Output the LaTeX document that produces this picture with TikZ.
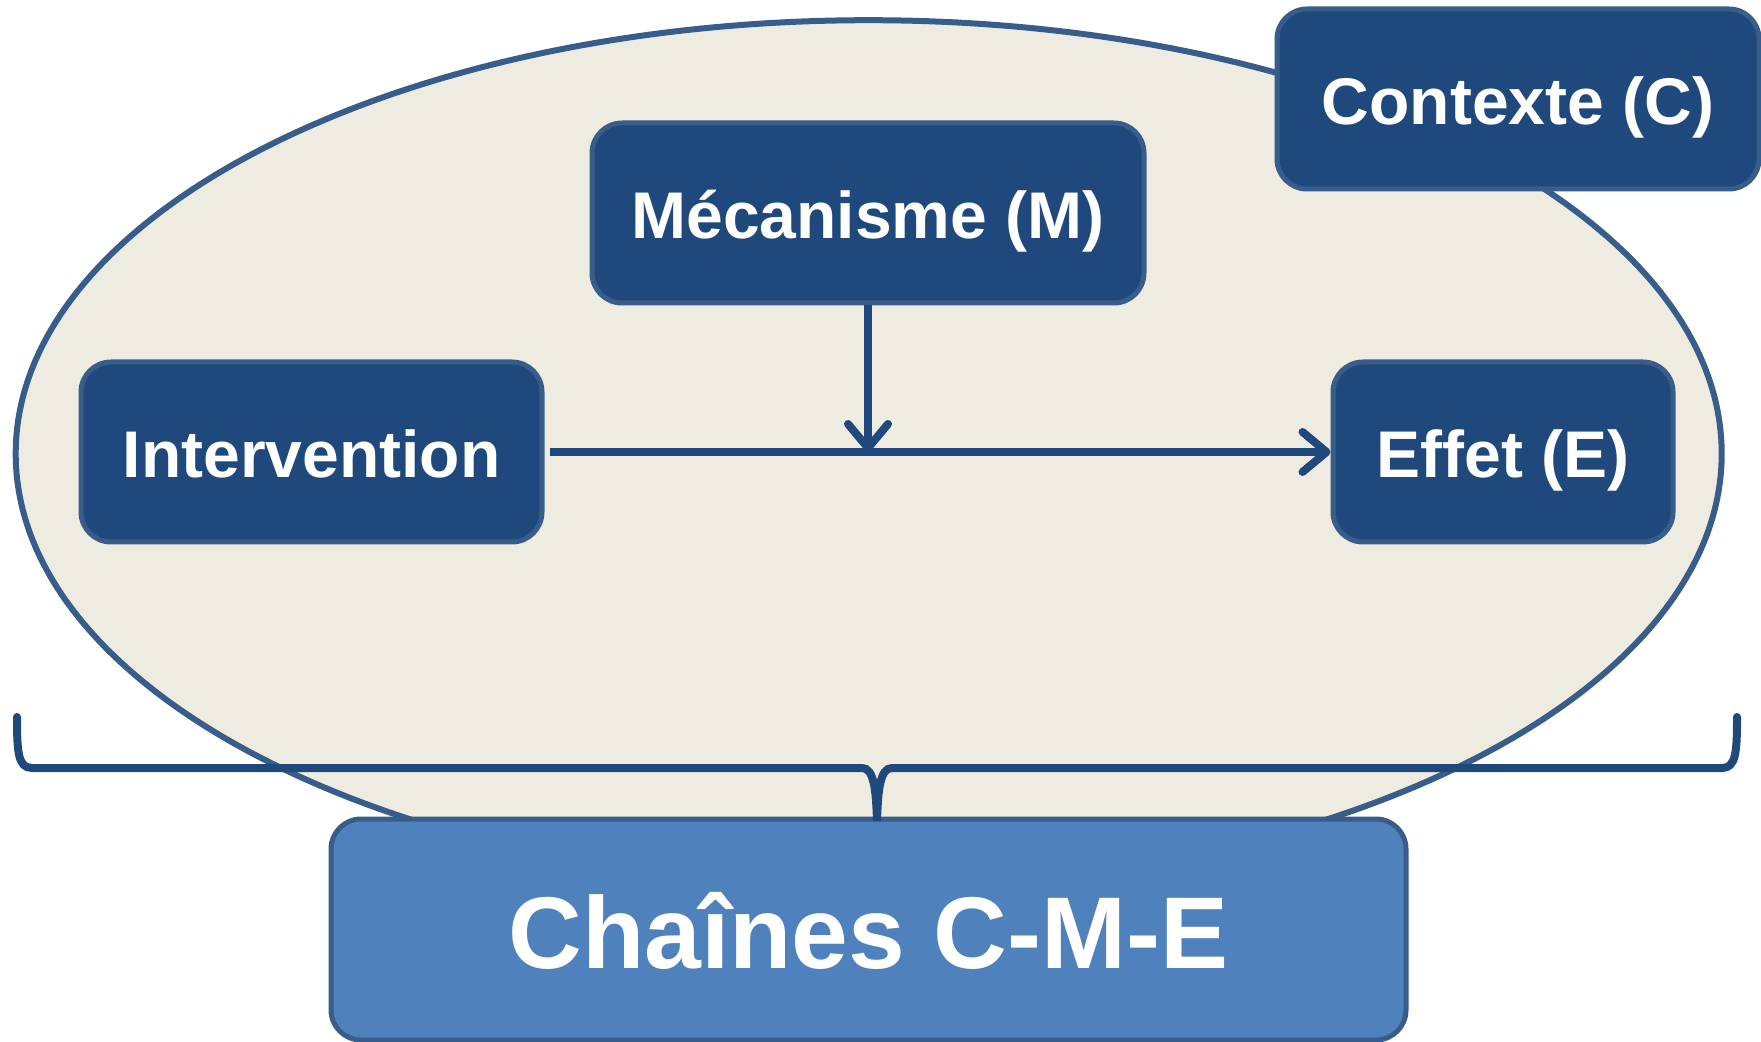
\documentclass[tikz,border=0pt]{standalone}
\usepackage{fontspec}
\setmainfont{Liberation Sans}
\usetikzlibrary{arrows.meta}
\definecolor{boxblue}{HTML}{1F497D}
\definecolor{edgeblue}{HTML}{385D8A}
\definecolor{sand}{HTML}{EEECE1}
\definecolor{chainblue}{HTML}{4F81BD}

\begin{document}
\begin{tikzpicture}[
    x=0.5pt, y=-0.5pt,
    every node/.style={
        rounded corners=15pt,
        draw=edgeblue, line width=2.5pt,
        text=white, inner sep=0pt,
        font=\bfseries\fontsize{33}{40}\selectfont,
        text height=26pt, text depth=0.5pt,
        align=center
    },
    block/.style={fill=boxblue, minimum height=90pt},
    chain/.style={fill=chainblue, font=\bfseries\fontsize{51}{60}\selectfont,
        text height=39pt, text depth=0pt},
    link/.style={draw=boxblue, line width=4pt,
        -{Straight Barb[length=12pt,width=20pt,line width=4pt,round]}}
]
\useasboundingbox (0,0) rectangle (1761,1042);
\draw[edgeblue, line width=3pt, fill=sand] (868.7,453.7)
    ellipse [x radius=426.5pt, y radius=216.75pt];

\node[block, minimum width=241pt] (ctx) at (1518,99) {Contexte (C)};
\node[block, minimum width=276pt] (mec) at (868,213) {Mécanisme (M)};
\node[block, minimum width=230.5pt] (int) at (311.5,452) {Intervention};
\node[block, minimum width=170pt] (eff) at (1503,452) {Effet (E)};
\node[chain, minimum width=537.5pt, minimum height=110.5pt] (cme)
    at (868.5,929.5) {Chaînes C-M-E};

\coordinate (mid) at (mec.south |- int.east);
\draw[link] ([xshift=2.5pt]int.east) -- (eff.west);
\draw[link] (mec.south) -- (mid);

% accolade
\draw[boxblue, line width=4pt, line cap=round]
    (17,717) .. controls (17,752) and (18,768) .. (32,768) -- (862,768)
    .. controls (874,768) and (876,790) .. (877,821)
    .. controls (878,790) and (880,768) .. (892,768) -- (1722,768)
    .. controls (1736,768) and (1737,752) .. (1737,717);
\end{tikzpicture}
\end{document}
